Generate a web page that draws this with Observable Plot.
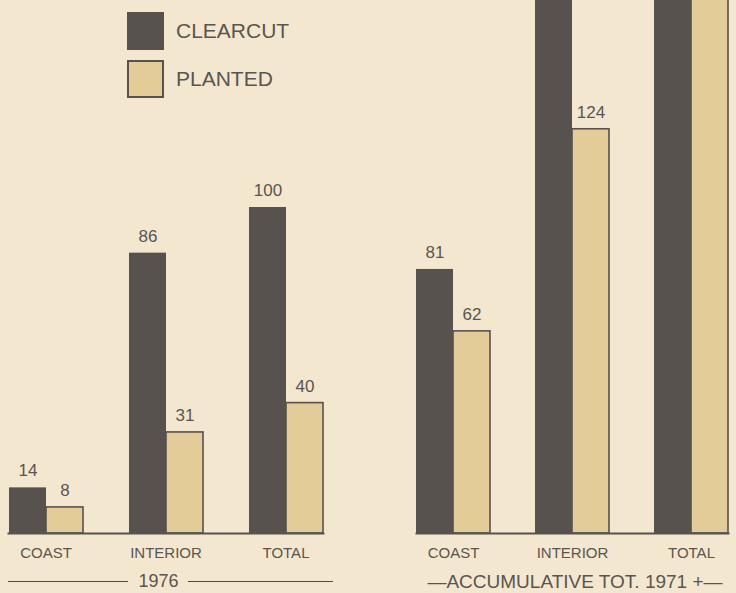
<!DOCTYPE html>
<html>
<head>
<meta charset="utf-8">
<script src="https://cdn.jsdelivr.net/npm/d3@7"></script>
<script src="https://cdn.jsdelivr.net/npm/@observablehq/plot@0.6"></script>
<style>
  html, body { margin: 0; padding: 0; background: #f3e7cf; }
  #wrap { position: relative; width: 736px; height: 593px; overflow: hidden; background: #f3e7cf;
          font-family: "Liberation Sans", Arial, Helvetica, sans-serif; color: #5a5550; }
  .panel { position: absolute; top: 0; }
  .legend-row { position: absolute; left: 127px; display: flex; align-items: center; }
  .sw { width: 37px; height: 38px; box-sizing: border-box; }
  .legend-row span { margin-left: 12px; font-size: 21px; }
  .cap { position: absolute; top: 571px; display: flex; align-items: center; font-size: 18px; }
  .cap .ln { height: 1.5px; background: #4f4a46; }
</style>
</head>
<body>
<div id="wrap"></div>
<script>
const categories = ["COAST", "INTERIOR", "TOTAL"];
const types = ["CLEARCUT", "PLANTED"];
// 1976
const clearcut1976 = [14, 86, 100];
const planted1976 = [8, 31, 40];
// Accumulative total 1971+ (interior/total clearcut and total planted run off the top of the chart)
const clearcutCum = [81, 420, 501];
const plantedCum = [62, 124, 186];
const periodLabels = ["1976", "\u2014ACCUMULATIVE TOT. 1971 +\u2014"];

const dark = "#57524e";
const tan = "#e4cc98";
const textColor = "#5a5550";
const yMax = 163.5;

function panel(clear, plant, width) {
  const rows = categories.flatMap((c, i) => [
    {category: c, type: types[0], value: clear[i]},
    {category: c, type: types[1], value: plant[i]}
  ]);
  const cc = rows.filter(d => d.type === "CLEARCUT");
  const pl = rows.filter(d => d.type === "PLANTED");
  return Plot.plot({
    width, height: 563,
    marginTop: 0, marginBottom: 30, marginLeft: 1, marginRight: 1,
    style: {background: "transparent", fontFamily: "'Liberation Sans', Arial, sans-serif", color: textColor},
    fx: {domain: categories, paddingInner: 0.375, paddingOuter: 0, label: null},
    x: {domain: types, padding: 0, axis: null},
    y: {domain: [0, yMax], axis: null},
    marks: [
      Plot.barY(cc, {fx: "category", x: "type", y: "value", fill: dark}),
      Plot.barY(pl, {fx: "category", x: "type", y: "value", fill: tan, stroke: dark, strokeWidth: 1.6}),
      Plot.text(rows.filter(d => d.value <= yMax), {
        fx: "category", x: "type", y: "value", text: d => String(d.value),
        dy: -17, fontSize: 17, fill: textColor
      }),
      Plot.frame({anchor: "bottom", facet: "super", stroke: dark, strokeWidth: 2}),
      Plot.axisFx({anchor: "bottom", tickSize: 0, tickPadding: 14, fontSize: 15, label: null, fill: textColor})
    ]
  });
}

const wrap = document.getElementById("wrap");

const left = panel(clearcut1976, planted1976, 319);
left.classList.add("panel");
left.style.left = "6px";
wrap.appendChild(left);

const right = panel(clearcutCum, plantedCum, 315);
right.classList.add("panel");
right.style.left = "415px";
wrap.appendChild(right);

// legend
const legend = [
  {label: types[0], fill: dark, border: "none", top: 12},
  {label: types[1], fill: tan, border: "2px solid " + dark, top: 60}
];
for (const l of legend) {
  const row = document.createElement("div");
  row.className = "legend-row";
  row.style.top = l.top + "px";
  const sw = document.createElement("div");
  sw.className = "sw";
  sw.style.background = l.fill;
  sw.style.border = l.border;
  const t = document.createElement("span");
  t.textContent = l.label;
  row.appendChild(sw);
  row.appendChild(t);
  wrap.appendChild(row);
}

// period captions
const cap1 = document.createElement("div");
cap1.className = "cap";
cap1.style.left = "8px";
cap1.style.width = "325px";
cap1.innerHTML = '<div class="ln" style="flex:1"></div><span style="margin:0 10px">' + periodLabels[0] + '</span><div class="ln" style="flex:1.2"></div>';
wrap.appendChild(cap1);

const cap2 = document.createElement("div");
cap2.className = "cap";
cap2.style.left = "415px";
cap2.style.width = "320px";
cap2.style.justifyContent = "center";
cap2.style.fontSize = "19px";
cap2.innerHTML = '<span>' + periodLabels[1] + '</span>';
wrap.appendChild(cap2);
</script>
</body>
</html>
